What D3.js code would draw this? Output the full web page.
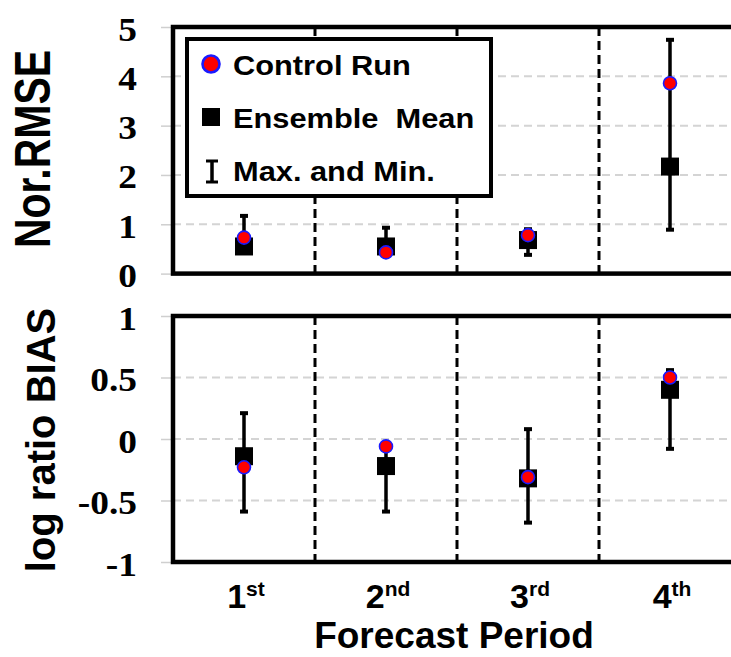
<!DOCTYPE html>
<html>
<head>
<meta charset="utf-8">
<script src="https://cdn.jsdelivr.net/npm/d3@7"></script>
<style>
  html, body { margin: 0; padding: 0; background: #fff; }
  svg { display: block; }
</style>
</head>
<body>
<svg id="chart" width="731" height="657"></svg>
<script>
// ---------- data ----------
const categories = ["1st", "2nd", "3rd", "4th"];
const ordinalNumber = ["1", "2", "3", "4"];
const ordinalSuffix = ["st", "nd", "rd", "th"];

const rmseControl  = [0.73, 0.43, 0.78, 3.86];
const rmseEnsemble = [0.55, 0.55, 0.68, 2.17];
const rmseMax      = [1.17, 0.93, 0.90, 4.74];
const rmseMin      = [0.45, 0.45, 0.38, 0.89];

const biasControl  = [-0.23, -0.06, -0.31, 0.50];
const biasEnsemble = [-0.14, -0.22, -0.32, 0.40];
const biasMax      = [0.21, -0.05, 0.08, 0.56];
const biasMin      = [-0.59, -0.59, -0.68, -0.08];

const rmseTicks = [0, 1, 2, 3, 4, 5];
const biasTicks = [-1, -0.5, 0, 0.5, 1];
const biasTickLabels = ["-1", "-0.5", "0", "0.5", "1"];

const legendLabels = ["Control Run", "Ensemble  Mean", "Max. and Min."];

// ---------- layout ----------
const svg = d3.select("#chart");
const left = 173, right = 741;           // right border lies beyond the picture edge
const top1 = 27, bot1 = 273.6;
const top2 = 316, bot2 = 562;

const x = d3.scaleBand().domain(categories).range([left, right]).padding(0);
const y1 = d3.scaleLinear().domain([0, 5]).range([bot1, top1]);
const y2 = d3.scaleLinear().domain([-1, 1]).range([bot2, top2]);

const sansBold = "'Liberation Sans', Arial, sans-serif";
const serifBold = "'Liberation Serif', 'Times New Roman', serif";

function drawPanel(yScale, ticks, tickLabels, gridVals, ctrl, ens, mx, mn, yTop, yBot) {
  const g = svg.append("g");

  // grid lines (light dashed)
  g.append("g")
    .selectAll("line.grid")
    .data(gridVals)
    .join("line")
    .attr("x1", left).attr("x2", right)
    .attr("y1", d => yScale(d)).attr("y2", d => yScale(d))
    .attr("stroke", "#d4d4d4").attr("stroke-width", 2)
    .attr("stroke-dasharray", "8,5");

  // y axis with outward gray ticks and serif labels
  const axis = d3.axisLeft(yScale).tickValues(ticks).tickSize(12).tickPadding(0)
    .tickFormat((d, i) => tickLabels[i]);
  const ag = g.append("g").attr("transform", `translate(${left},0)`).call(axis);
  ag.select(".domain").remove();
  ag.selectAll(".tick line").attr("stroke", "#cfcfcf").attr("stroke-width", 1.5);
  ag.selectAll(".tick text")
    .attr("x", null).attr("dy", null)
    .attr("text-anchor", "end")
    .attr("font-family", serifBold).attr("font-weight", "bold").attr("font-size", 34)
    .attr("fill", "#000")
    .attr("transform", "translate(-36,13) scale(1.1,1)");

  // vertical dashed separators between forecast periods
  g.append("g")
    .selectAll("line.sep")
    .data(categories.slice(1))
    .join("line")
    .attr("x1", d => x(d)).attr("x2", d => x(d))
    .attr("y1", yTop).attr("y2", yBot)
    .attr("stroke", "#000").attr("stroke-width", 3)
    .attr("stroke-dasharray", "9,5");

  // error bars
  const cx = d => x(d) + x.bandwidth() / 2;
  const eb = g.append("g");
  eb.selectAll("line.whisker")
    .data(categories)
    .join("line")
    .attr("x1", cx).attr("x2", cx)
    .attr("y1", (d, i) => yScale(mx[i])).attr("y2", (d, i) => yScale(mn[i]))
    .attr("stroke", "#000").attr("stroke-width", 3.5);
  [mx, mn].forEach(arr => {
    eb.selectAll(null)
      .data(categories)
      .join("line")
      .attr("x1", d => cx(d) - 4).attr("x2", d => cx(d) + 4)
      .attr("y1", (d, i) => yScale(arr[i])).attr("y2", (d, i) => yScale(arr[i]))
      .attr("stroke", "#000").attr("stroke-width", 4);
  });

  // ensemble mean squares
  g.append("g")
    .selectAll("rect")
    .data(categories)
    .join("rect")
    .attr("x", d => cx(d) - 9).attr("y", (d, i) => yScale(ens[i]) - 9)
    .attr("width", 18).attr("height", 18)
    .attr("fill", "#000");

  // control run circles
  g.append("g")
    .selectAll("circle")
    .data(categories)
    .join("circle")
    .attr("cx", cx).attr("cy", (d, i) => yScale(ctrl[i]))
    .attr("r", 6.5)
    .attr("fill", "#ff0000").attr("stroke", "#1a1aff").attr("stroke-width", 1.6);

  // frame
  g.append("rect")
    .attr("x", left).attr("y", yTop)
    .attr("width", right - left).attr("height", yBot - yTop)
    .attr("fill", "none").attr("stroke", "#000").attr("stroke-width", 4.5);
}

drawPanel(y1, rmseTicks, rmseTicks.map(String), [1, 2, 3, 4],
  rmseControl, rmseEnsemble, rmseMax, rmseMin, top1, bot1);
drawPanel(y2, biasTicks, biasTickLabels, [-0.5, 0, 0.5],
  biasControl, biasEnsemble, biasMax, biasMin, top2, bot2);

// ---------- legend ----------
const lg = svg.append("g");
lg.append("rect")
  .attr("x", 187).attr("y", 39).attr("width", 304).attr("height", 157)
  .attr("fill", "#fff").attr("stroke", "#000").attr("stroke-width", 4);
const rowY = [64, 117, 170];
lg.append("circle").attr("cx", 211).attr("cy", rowY[0]).attr("r", 8.5)
  .attr("fill", "#ff0000").attr("stroke", "#1a1aff").attr("stroke-width", 2.6);
lg.append("rect").attr("x", 202).attr("y", rowY[1] - 9).attr("width", 18).attr("height", 18)
  .attr("fill", "#000");
lg.append("line").attr("x1", 212).attr("x2", 212).attr("y1", rowY[2] - 9).attr("y2", rowY[2] + 12)
  .attr("stroke", "#000").attr("stroke-width", 3.5);
lg.append("line").attr("x1", 206).attr("x2", 218).attr("y1", rowY[2] - 9).attr("y2", rowY[2] - 9)
  .attr("stroke", "#000").attr("stroke-width", 3);
lg.append("line").attr("x1", 206).attr("x2", 218).attr("y1", rowY[2] + 12).attr("y2", rowY[2] + 12)
  .attr("stroke", "#000").attr("stroke-width", 3);
lg.selectAll("text")
  .data(legendLabels)
  .join("text")
  .attr("transform", (d, i) => `translate(233,${rowY[i] + 11}) scale(1.1,1)`)
  .attr("font-family", sansBold).attr("font-weight", "bold").attr("font-size", 28)
  .attr("fill", "#000")
  .style("white-space", "pre")
  .text(d => d);

// ---------- x tick labels with superscripts ----------
const xt = svg.append("g")
  .selectAll("text")
  .data(categories)
  .join("text")
  .attr("x", d => x(d) + x.bandwidth() / 2 + 2)
  .attr("y", 608)
  .attr("text-anchor", "middle")
  .attr("font-family", sansBold).attr("font-weight", "bold")
  .attr("fill", "#000");
xt.append("tspan").attr("font-size", 34).text((d, i) => ordinalNumber[i]);
xt.append("tspan").attr("font-size", 21).attr("dy", -12).text((d, i) => ordinalSuffix[i]);

// ---------- axis titles ----------
svg.append("text")
  .attr("transform", "translate(454,648)")
  .attr("text-anchor", "middle")
  .attr("font-family", sansBold).attr("font-weight", "bold").attr("font-size", 37)
  .text("Forecast Period");

svg.append("text")
  .attr("transform", "translate(50,149) scale(1.2,1) rotate(-90)")
  .attr("text-anchor", "middle")
  .attr("font-family", sansBold).attr("font-weight", "bold").attr("font-size", 41)
  .text("Nor.RMSE");

svg.append("text")
  .attr("transform", "translate(55,440) rotate(-90)")
  .attr("text-anchor", "middle")
  .attr("font-family", sansBold).attr("font-weight", "bold").attr("font-size", 40)
  .text("log ratio BIAS");
</script>
</body>
</html>
